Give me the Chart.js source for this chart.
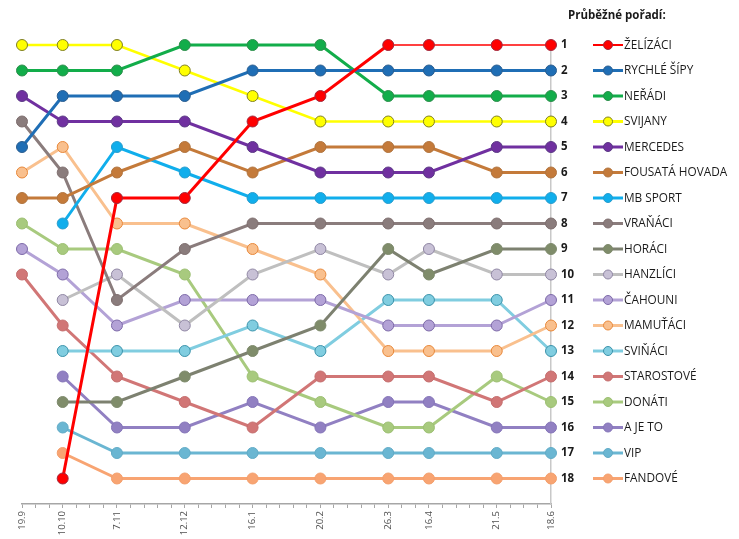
<!DOCTYPE html>
<html>
<head>
<meta charset="utf-8">
<script src="https://cdn.jsdelivr.net/npm/chart.js@4"></script>
<style>
  html, body { margin: 0; padding: 0; background: #fff; }
  #wrap { width: 739px; height: 539px; }
</style>
</head>
<body>
<div id="wrap"><canvas id="rankChart"></canvas></div>
<script>
// round dates and their distance in days from the first one
const dates = ['19.9', '10.10', '7.11', '12.12', '16.1', '20.2', '26.3', '16.4', '21.5', '18.6'];
const dayOffsets = [0, 21, 49, 84, 119, 154, 189, 210, 245, 273];

// teams in final order
const teams = ['ŽELÍZÁCI', 'RYCHLÉ ŠÍPY', 'NEŘÁDI', 'SVIJANY', 'MERCEDES', 'FOUSATÁ HOVADA',
    'MB SPORT', 'VRAŇÁCI', 'HORÁCI', 'HANZLÍCI', 'ČAHOUNI', 'MAMUŤÁCI', 'SVIŇÁCI',
    'STAROSTOVÉ', 'DONÁTI', 'A JE TO', 'VIP', 'FANDOVÉ'];

// running rank of each team per date (null = not yet ranked)
const zelizaci   = [null, 18, 7, 7, 4, 3, 1, 1, 1, 1];
const rychleSipy = [5, 3, 3, 3, 2, 2, 2, 2, 2, 2];
const neradi     = [2, 2, 2, 1, 1, 1, 3, 3, 3, 3];
const svijany    = [1, 1, 1, 2, 3, 4, 4, 4, 4, 4];
const mercedes   = [3, 4, 4, 4, 5, 6, 6, 6, 5, 5];
const fousata    = [7, 7, 6, 5, 6, 5, 5, 5, 6, 6];
const mbSport    = [null, 8, 5, 6, 7, 7, 7, 7, 7, 7];
const vranaci    = [4, 6, 11, 9, 8, 8, 8, 8, 8, 8];
const horaci     = [null, 15, 15, 14, 13, 12, 9, 10, 9, 9];
const hanzlici   = [null, 11, 10, 12, 10, 9, 10, 9, 10, 10];
const cahouni    = [9, 10, 12, 11, 11, 11, 12, 12, 12, 11];
const mamutaci   = [6, 5, 8, 8, 9, 10, 13, 13, 13, 12];
const svinaci    = [null, 13, 13, 13, 12, 13, 11, 11, 11, 13];
const starostove = [10, 12, 14, 15, 16, 14, 14, 14, 15, 14];
const donati     = [8, 9, 9, 10, 14, 15, 16, 16, 14, 15];
const ajeto      = [null, 14, 16, 16, 15, 16, 15, 15, 16, 16];
const vip        = [null, 16, 17, 17, 17, 17, 17, 17, 17, 17];
const fandove    = [null, 17, 18, 18, 18, 18, 18, 18, 18, 18];

const rankTicks = [1, 2, 3, 4, 5, 6, 7, 8, 9, 10, 11, 12, 13, 14, 15, 16, 17, 18];

const series = [zelizaci, rychleSipy, neradi, svijany, mercedes, fousata, mbSport, vranaci,
    horaci, hanzlici, cahouni, mamutaci, svinaci, starostove, donati, ajeto, vip, fandove];

// line, marker fill, marker border
const lineColors = ['#FF0000', '#1F6EB5', '#12AD4A', '#FFFF00', '#7030A0', '#C47A3A',
    '#10AEEC', '#8A7C7C', '#7D8170', '#BFBFBF', '#B3A2D6', '#F9C08E', '#80CDE0',
    '#D17676', '#A8CA7E', '#9180C2', '#6AB6D2', '#F8A472'];
const pointFills = ['#FF0000', '#1F6EB5', '#12AD4A', '#FFFF00', '#7030A0', '#C47A3A',
    '#10AEEC', '#8A7C7C', '#7F8C6A', '#C8C1D6', '#B3A2D6', '#F9C08E', '#80CDE0',
    '#D17676', '#A8CA7E', '#9180C2', '#6AB6D2', '#F8A472'];
const pointBorders = ['#A0283C', '#2A5D8F', '#2E8E4C', '#7F7F22', '#5B3A84', '#B0743F',
    '#2A9CCB', '#7E6E6E', '#7E8A6C', '#8F86A3', '#7D6AA8', '#E8883A', '#3C93AB',
    '#C46E6E', '#9CBF72', '#8575B8', '#62ABC6', '#F39F6C'];

const datasets = teams.map((name, i) => ({
    label: name,
    data: series[i].map((r, j) => ({ x: dayOffsets[j], y: r })),
    borderColor: lineColors[i],
    backgroundColor: pointFills[i],
    pointBackgroundColor: pointFills[i],
    pointBorderColor: pointBorders[i],
    pointBorderWidth: 1,
    pointRadius: 5.5,
    pointHoverRadius: 5.5,
    borderWidth: i === 3 ? 2.5 : 3,
    spanGaps: false,
    clip: false,
    segment: i === 0 ? {
        borderWidth: ctx => (ctx.p0.parsed.y === 1 && ctx.p1.parsed.y === 1) ? 1.5 : 3
    } : undefined
}));

const fontFamily = '"Open Sans", "DejaVu Sans", sans-serif';

// right hand legend: header and a sample line + name per rank row
const rankLegend = {
    id: 'rankLegend',
    afterDraw(chart) {
        const ctx = chart.ctx;
        const y = chart.scales.y;
        const left = chart.chartArea.right + 42;
        ctx.save();
        ctx.fillStyle = '#1a1a1a';
        ctx.font = 'bold 11.5px ' + fontFamily;
        ctx.textBaseline = 'middle';
        ctx.fillText('Průběžné pořadí:', chart.chartArea.right + 17, 16);
        chart.data.datasets.forEach((ds, i) => {
            const py = y.getPixelForValue(rankTicks[i]);
            ctx.strokeStyle = ds.borderColor;
            ctx.lineWidth = i === 0 ? 2 : 3;
            ctx.beginPath();
            ctx.moveTo(left, py);
            ctx.lineTo(left + 30, py);
            ctx.stroke();
            ctx.beginPath();
            ctx.arc(left + 15, py, 4.5, 0, Math.PI * 2);
            ctx.fillStyle = ds.pointBackgroundColor;
            ctx.fill();
            ctx.lineWidth = 1;
            ctx.strokeStyle = ds.pointBorderColor;
            ctx.stroke();
            ctx.fillStyle = '#1a1a1a';
            ctx.font = '11.8px ' + fontFamily;
            ctx.fillText(ds.label, left + 31, py + 0.5);
        });
        ctx.restore();
    }
};

new Chart(document.getElementById('rankChart'), {
    type: 'line',
    data: { datasets: datasets },
    plugins: [rankLegend],
    options: {
        responsive: true,
        maintainAspectRatio: false,
        animation: false,
        layout: { padding: { left: 22, right: 148, top: 45, bottom: 0 } },
        plugins: {
            legend: { display: false },
            tooltip: { enabled: false }
        },
        elements: { line: { tension: 0 } },
        scales: {
            x: {
                type: 'linear',
                min: dayOffsets[0],
                max: dayOffsets[dayOffsets.length - 1],
                afterFit: s => { s.height = 35; },
                afterBuildTicks: s => {
                    const t = [];
                    for (let d = dayOffsets[0]; d <= dayOffsets[dayOffsets.length - 1]; d += 7) t.push({ value: d });
                    s.ticks = t;
                },
                ticks: {
                    autoSkip: false,
                    maxRotation: 90,
                    minRotation: 90,
                    padding: 3,
                    color: '#505050',
                    font: { family: fontFamily, size: 9.5 },
                    callback: v => {
                        const k = dayOffsets.indexOf(v);
                        return k >= 0 ? dates[k] : '';
                    }
                },
                grid: {
                    display: true,
                    drawOnChartArea: false,
                    drawTicks: true,
                    tickLength: 4,
                    color: '#A6A6A6'
                },
                border: { display: true, color: '#A6A6A6', width: 1.5 }
            },
            y: {
                type: 'linear',
                position: 'right',
                reverse: true,
                min: 1,
                max: 19,
                afterFit: s => { s.width = 40; },
                afterBuildTicks: s => { s.ticks = rankTicks.map(v => ({ value: v })); },
                ticks: {
                    padding: 10,
                    color: '#1a1a1a',
                    font: { family: fontFamily, size: 11.5, weight: 'bold' }
                },
                grid: { display: false, drawTicks: false },
                border: { display: true, color: '#C8C8C8', width: 1.5 }
            }
        }
    }
});
</script>
</body>
</html>
